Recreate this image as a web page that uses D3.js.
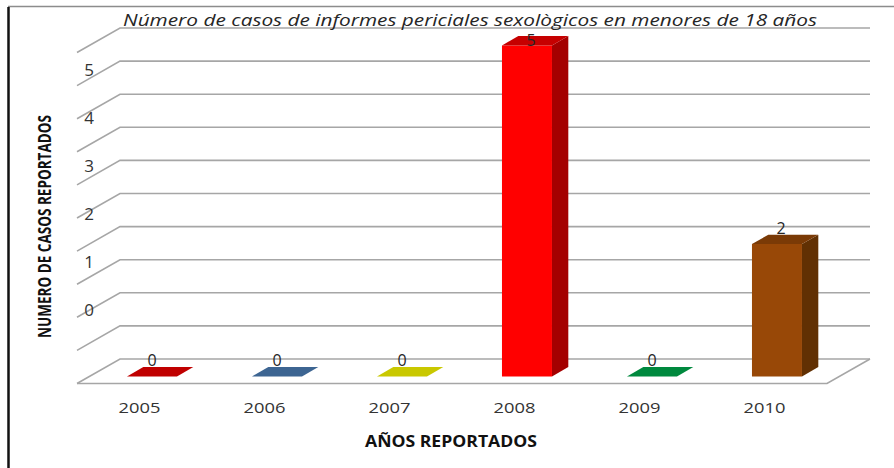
<!DOCTYPE html>
<html>
<head>
<meta charset="utf-8">
<script src="https://cdn.jsdelivr.net/npm/d3@7/dist/d3.min.js"></script>
<style>
  html, body { margin: 0; padding: 0; background: #fff; }
  svg { display: block; }
</style>
</head>
<body>
<svg id="chart" width="894" height="468"></svg>
<script>
// ---- data ----
const years = ["2005", "2006", "2007", "2008", "2009", "2010"];
const casos = [0, 0, 0, 5, 0, 2];
const yTickLabels = ["0", "1", "2", "3", "4", "5"];
const gridValues = [0, 0.5, 1, 1.5, 2, 2.5, 3, 3.5, 4, 4.5, 5];
const titleText = "Número de casos de informes periciales sexològicos en menores de 18 años";
const xTitle = "AÑOS REPORTADOS";
const yTitle = "NUMERO DE CASOS REPORTADOS";

// ---- style ----
const faceColors = [
  { front: "#c00000", side: "#800000", top: "#c00000" },
  { front: "#3d6592", side: "#284466", top: "#3d6592" },
  { front: "#c9c800", side: "#8a8a00", top: "#c9c800" },
  { front: "#ff0000", side: "#a40000", top: "#c60000" },
  { front: "#00893e", side: "#005c29", top: "#00893e" },
  { front: "#984807", side: "#613003", top: "#7a3a06" }
];
const FONT = "'Open Sans', 'Liberation Sans', sans-serif";

const svg = d3.select("#chart");

// ---- 3D frame ----
const floorFront = 383.5;     // y of value 0 on the front plane
const DX = 43, DY = -24.5;    // depth offset to the back wall
const x = d3.scaleBand().domain(years).range([77, 827]).padding(0);
const h = d3.scaleLinear().domain([0, 5]).range([0, 331]);
const pt = (px, f, v) => [px + DX * f, floorFront + DY * f - h(v)];
const xMin = x.range()[0], xMax = x.range()[1];

const grid = svg.append("g").attr("stroke", "#a6a6a6").attr("stroke-width", 1.6).attr("fill", "none");
gridValues.forEach(v => {
  const a = pt(xMin, 0, v), b = pt(xMin, 1, v), c = pt(xMax, 1, v);
  grid.append("path").attr("d", d3.line()([a, b, c]));
});
// floor right and front edges
{
  const a = pt(xMax, 1, 0), b = pt(xMax, 0, 0), c = pt(xMin, 0, 0);
  grid.append("path").attr("d", d3.line()([a, b, c]));
}

// ---- bars ----
const f0 = 0.29, f1 = 0.67;
const barFrac = 0.4;
const bars = svg.append("g");
years.forEach((yr, i) => {
  const v = casos[i];
  const cx = x(yr) + x.bandwidth() / 2;
  const bw = x.bandwidth() * barFrac;
  const x0 = cx - bw / 2, x1 = cx + bw / 2;
  const col = faceColors[i];
  const poly = pts => "M" + pts.map(p => p.join(",")).join("L") + "Z";
  if (v > 0) {
    bars.append("path").attr("fill", col.front)
      .attr("d", poly([pt(x0, f0, 0), pt(x1, f0, 0), pt(x1, f0, v), pt(x0, f0, v)]));
    bars.append("path").attr("fill", col.side)
      .attr("d", poly([pt(x1, f0, 0), pt(x1, f1, 0), pt(x1, f1, v), pt(x1, f0, v)]));
  }
  bars.append("path").attr("fill", col.top)
    .attr("d", poly([pt(x0, f0, v), pt(x1, f0, v), pt(x1, f1, v), pt(x0, f1, v)]));

  // value label
  const lx = pt(cx, f0, v)[0] + (v > 0 ? 4 : 0);
  const ly = Math.max(pt(cx, f1, v)[1] - 1, 46);
  svg.append("text").attr("x", lx).attr("y", ly)
    .attr("text-anchor", "middle").attr("font-family", FONT).attr("font-size", 16)
    .attr("fill", "#262626").text(v);
});

// ---- category labels ----
svg.append("g").selectAll("text").data(years).join("text")
  .attr("x", d => x(d) + x.bandwidth() / 2)
  .attr("y", 413)
  .attr("text-anchor", "middle")
  .attr("font-family", FONT).attr("font-size", 15)
  .attr("textLength", 42).attr("lengthAdjust", "spacingAndGlyphs")
  .attr("fill", "#333").text(d => d);

// ---- y tick labels (displaced as in the source) ----
const yLab = d3.scaleLinear().domain([0, 5]).range([310, 70]);
svg.append("g").selectAll("text").data(yTickLabels).join("text")
  .attr("x", 89)
  .attr("y", d => yLab(+d))
  .attr("dy", "0.36em")
  .attr("text-anchor", "middle")
  .attr("font-family", FONT).attr("font-size", 17)
  .attr("fill", "#333").text(d => d);

// ---- titles ----
svg.append("text").attr("x", 123).attr("y", 26)
  .attr("font-family", FONT).attr("font-size", 16.5).attr("font-style", "italic")
  .attr("textLength", 694).attr("lengthAdjust", "spacingAndGlyphs")
  .attr("fill", "#262626").text(titleText);

svg.append("text").attr("x", 451).attr("y", 447)
  .attr("text-anchor", "middle")
  .attr("font-family", FONT).attr("font-size", 16).attr("font-weight", "bold")
  .attr("textLength", 172).attr("lengthAdjust", "spacingAndGlyphs")
  .attr("fill", "#111").text(xTitle);

svg.append("text")
  .attr("transform", "translate(51,226.5) rotate(-90)")
  .attr("text-anchor", "middle")
  .attr("font-family", FONT).attr("font-size", 18).attr("font-weight", "bold")
  .attr("textLength", 223).attr("lengthAdjust", "spacingAndGlyphs")
  .attr("fill", "#111").text(yTitle);

// ---- frame ----
svg.append("line").attr("x1", 8).attr("x2", 894).attr("y1", 6.5).attr("y2", 6.5)
  .attr("stroke", "#8c8c8c").attr("stroke-width", 1.5);
svg.append("line").attr("x1", 8.5).attr("x2", 8.5).attr("y1", 7).attr("y2", 468)
  .attr("stroke", "#111").attr("stroke-width", 2.5);
</script>
</body>
</html>
